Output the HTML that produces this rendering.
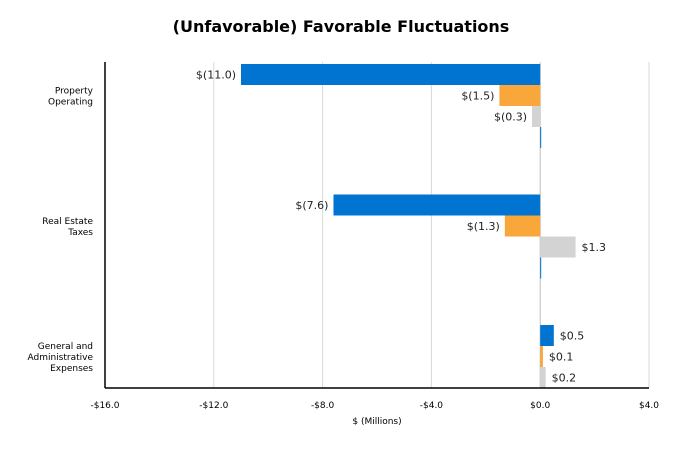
<!DOCTYPE html>
<html><head><meta charset="utf-8"><style>
body{margin:0;background:#fff;font-family:"Liberation Sans","DejaVu Sans",sans-serif}
svg text{font-family:"DejaVu Sans","Liberation Sans",sans-serif}
</style></head><body>
<svg id="c" width="682" height="454">
<text x="341" y="32" text-anchor="middle" font-size="16" font-weight="bold" fill="#000">(Unfavorable) Favorable Fluctuations</text>
<text x="377" y="424" text-anchor="middle" font-size="9" fill="#000">$ (Millions)</text>
</svg>
<script>
const categories=[["Property","Operating"],["Real Estate","Taxes"],["General and","Administrative","Expenses"]];
const seriesBlue=[-11.0,-7.6,0.5];
const seriesOrange=[-1.5,-1.3,0.1];
const seriesGray=[-0.3,1.3,0.2];
const seriesFourth=[0.0,0.0,0.0];
const labelsBlue=["$(11.0)","$(7.6)","$0.5"];
const labelsOrange=["$(1.5)","$(1.3)","$0.1"];
const labelsGray=["$(0.3)","$1.3","$0.2"];
const ticks=[-16,-12,-8,-4,0,4];
const tickLabels=["-$16.0","-$12.0","-$8.0","-$4.0","$0.0","$4.0"];
const svg=document.getElementById('c');const NS='http://www.w3.org/2000/svg';
const L=105,R=649,T=62,B=388;
const x=v=>L+(v+16)/20*(R-L);
const groupY=g=>64+g*130.5;
const slot=21;
function mk(t,a){const e=document.createElementNS(NS,t);for(const k in a)e.setAttribute(k,a[k]);svg.appendChild(e);return e;}
ticks.forEach((t,i)=>{
 if(t!==0&&i>0){const g=mk('line',{x1:x(t),x2:x(t),y1:T,y2:B,stroke:'#d9d9d9','stroke-width':1});
 
 }
 const tl=mk('text',{x:x(t),y:408,'text-anchor':'middle','font-size':9,fill:'#000'});tl.textContent=tickLabels[i];
 
 
});
const z=mk('line',{x1:x(0),x2:x(0),y1:T,y2:B,stroke:'#bfbfbf','stroke-width':1});


const ser=[[seriesBlue,'#0074d0',labelsBlue],[seriesOrange,'#f9a63a',labelsOrange],[seriesGray,'#d3d3d3',labelsGray],[seriesFourth,'#0074d0',null]];
categories.forEach((c,g)=>{
 ser.forEach((s,k)=>{
  const v=s[0][g];const y0=groupY(g)+k*slot;if(y0>=B)return;
  const h=Math.min(slot,B-y0);
  const xa=Math.min(x(0),x(v)),w=Math.max(Math.abs(x(v)-x(0)),1);
  const r=mk('rect',{x:xa,y:y0,width:w,height:h,fill:s[1]});
  
  
  if(s[2]){const t=mk('text',{x:v<0?x(v)-5:x(v)+6,y:y0+h/2+4,'text-anchor':v<0?'end':'start','font-size':11,fill:'#222'});t.textContent=s[2][g];
  
  }
 });
 const cy=groupY(g)+32-(c.length-1)*5.5;
 c.forEach((ln,i)=>{const t=mk('text',{x:93,y:cy+i*11+3,'text-anchor':'end','font-size':9,fill:'#000'});t.textContent=ln;
 
 });
});
const ya=mk('line',{x1:L,x2:L,y1:T,y2:B,stroke:'#000','stroke-width':1.5});


const xa=mk('line',{x1:L,x2:R,y1:B,y2:B,stroke:'#000','stroke-width':1.5});


</script>
</body></html>
